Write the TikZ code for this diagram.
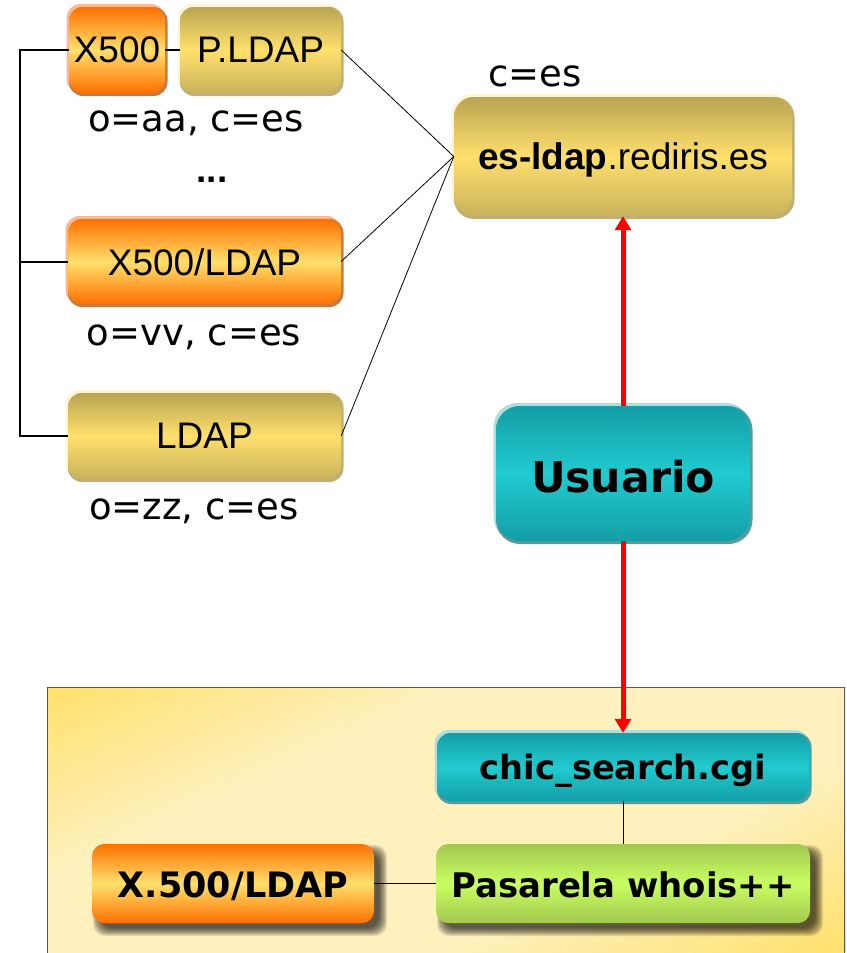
\documentclass[tikz,border=0pt]{standalone}
\usepackage{fontspec}
\setmainfont{Liberation Sans}
\newfontfamily\tah{DejaVu Sans}
\usetikzlibrary{arrows.meta}
\definecolor{ygold}{HTML}{FFE06C}
\definecolor{gtop}{HTML}{B9A452}
\definecolor{gbot}{HTML}{C9B25C}
\definecolor{orangeE}{HTML}{FF7000}
\definecolor{tealE}{HTML}{149EA6}
\definecolor{tealM}{HTML}{20CBD0}
\definecolor{greenE}{HTML}{A3C850}
\definecolor{greenM}{HTML}{C8FF62}
\definecolor{cream}{HTML}{FEF1BE}
\definecolor{oLight}{HTML}{FFB88C}
\definecolor{oDark}{HTML}{C47A45}
\definecolor{gLight}{HTML}{FFF6D0}
\definecolor{gDark}{HTML}{BDB078}
\definecolor{tLight}{HTML}{A8E2E0}
\definecolor{tDark}{HTML}{5A9A9C}
\pgfdeclareverticalshading{panelsh}{100bp}{color(0bp)=(ygold); color(25bp)=(ygold); color(40bp)=(cream); color(60bp)=(cream); color(75bp)=(ygold); color(100bp)=(ygold)}
\tikzset{
  x=1pt,y=-1pt,
  facebox/.style={inner sep=0pt,align=center,text=black},
  orangeface/.style={facebox,top color=orangeE,bottom color=orangeE,middle color=ygold},
  goldface/.style={facebox,top color=gtop,bottom color=gbot,middle color=ygold},
  tealface/.style={facebox,top color=tealE,bottom color=tealE,middle color=tealM},
  greenface/.style={facebox,top color=greenE,bottom color=greenE,middle color=greenM},
  thinline/.style={draw=black,line width=0.8pt},
  busline/.style={draw=black,line width=2pt},
  redline/.style={draw=red,line width=5pt,-{Triangle[length=14pt,width=16pt]}},
  lab/.style={inner sep=0pt,text=black,font=\tah\fontsize{37}{37}\selectfont},
  nodetext/.style={font=\fontsize{37}{37}\selectfont,text depth=0pt},
  boldtext/.style={font=\tah\bfseries\fontsize{35}{36}\selectfont,text depth=0pt,yshift=-1.5pt},
}
% name, x1, y1, x2, y2, radius, light, dark, style, text
\newcommand\bevelnode[9]{%
  \fill[#7,rounded corners=#6pt] (#2-2.5,#3-3) rectangle (#4,#5);
  \fill[#8,rounded corners=#6pt] (#2,#3) rectangle (#4+2.5,#5+3);
  \node[#9,rounded corners=#6pt,minimum width=#4pt-#2pt,minimum height=#5pt-#3pt]
    (#1) at ({(#2+#4)/2},{(#3+#5)/2})}
\newcommand\softshadow[5]{%
  \foreach \g in {6,5,4,3,2,1,0,-1,-2}{
    \fill[black,opacity=0.10,rounded corners=#5pt]
      (#1+7-\g,#2+7-\g) rectangle (#3+7+\g,#4+7+\g);
  }}
\begin{document}
\begin{tikzpicture}
\useasboundingbox (0,0) rectangle (846,953);
% panel
\begin{scope}
\clip (47,687) rectangle (846,953);
\begin{scope}[transform canvas={rotate around={25:(445.5,820)}}]
\shade[shading=panelsh] (445.5-560,820-289) rectangle (445.5+560,820+289);
\end{scope}
\draw[black!65,line width=1pt] (47.5,953) -- (47.5,687.5) -- (844.5,687.5) -- (844.5,953);
\end{scope}
% boxes
\bevelnode{xf}{69}{7}{165}{93}{14}{oLight}{oDark}{orangeface} {};
\node[nodetext] at (xf) {X500};
\bevelnode{pl}{180}{7}{341}{93}{14}{gLight}{gDark}{goldface} {};
\node[nodetext] at (pl) {P.LDAP};
\bevelnode{xl}{68}{219}{341}{304}{14}{oLight}{oDark}{orangeface} {};
\node[nodetext,yshift=-1pt] at (xl) {X500/LDAP};
\bevelnode{ld}{68}{393}{341}{479}{14}{gLight}{gDark}{goldface} {};
\node[nodetext] at (ld) {LDAP};
\bevelnode{es}{454}{97}{792}{216}{20}{gLight}{gDark}{goldface} {};
\node[nodetext] at (es) {\textbf{es-ldap}.rediris.es};
\bevelnode{us}{496}{406}{750}{541}{24}{tLight}{tDark}{tealface} {};
\node[font=\tah\bfseries\fontsize{42.6}{44}\selectfont,yshift=-3pt] at (us) {Usuario};
\bevelnode{ch}{437}{733}{809}{801}{14}{tLight}{tDark}{tealface} {};
\node[boldtext,font=\tah\bfseries\fontsize{33.6}{36}\selectfont,yshift=1.5pt] at (ch) {chic\_search.cgi};
\softshadow{92}{844}{374}{923}{12}
\softshadow{436}{844}{810}{923}{12}
\node[orangeface,rounded corners=12pt,minimum width=282pt,minimum height=79pt] (xb) at (233,883.5) {};
\node[boldtext] at (xb) {X.500/LDAP};
\node[greenface,rounded corners=12pt,minimum width=374pt,minimum height=79pt] (pa) at (623,883.5) {};
\node[boldtext,font=\tah\bfseries\fontsize{33.9}{36}\selectfont] at (pa) {Pasarela whois++};
% labels
\node[lab] (l1) at (196,123) {o=aa, c=es};
\node[lab,font=\bfseries\fontsize{37}{37}\selectfont] (l2) at (212,180) {...};
\node[lab] (l3) at (194,337) {o=vv, c=es};
\node[lab] (l4) at (194,511) {o=zz, c=es};
\node[lab] (l5) at (535,76) {c=es};
% connectors
\coordinate (bus) at (20,0);
\draw[busline] (xf.west) -- (xf.west -| bus) -- (ld.west -| bus) -- (ld.west);
\draw[busline] (xl.west -| bus) -- (xl.west);
\draw[busline] (xf.east) -- (pl.west);
\draw[thinline] (pl.east) -- (es.west);
\draw[thinline] (xl.east) -- (es.west);
\draw[thinline] (ld.east) -- (es.west);
\draw[thinline] (ch.south) -- (pa.north);
\draw[thinline] (xb.east) -- (pa.west);
\draw[redline] (us.north) -- (us.north |- es.south);
\draw[redline] (us.south) -- (us.south |- ch.north);
\end{tikzpicture}
\end{document}
